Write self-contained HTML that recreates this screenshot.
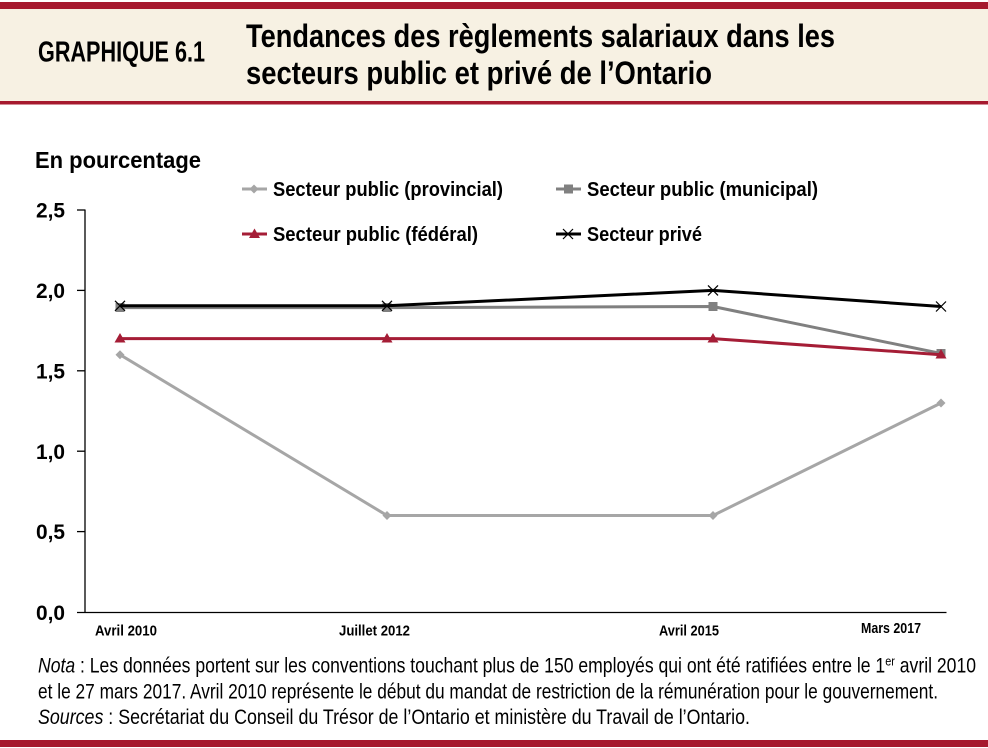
<!DOCTYPE html>
<html>
<head>
<meta charset="utf-8">
<style>
html,body{margin:0;padding:0;background:#fff;}
svg{display:block;}
text{font-family:"Liberation Sans",Arial,sans-serif;fill:#000;}
.b{font-weight:bold;}
</style>
</head>
<body>
<svg width="988" height="748" viewBox="0 0 988 748" xmlns="http://www.w3.org/2000/svg">
  <!-- header -->
  <rect x="0" y="0" width="988" height="748" fill="#ffffff"/>
  <rect x="0" y="2" width="988" height="7" fill="#A6192E"/>
  <rect x="0" y="9" width="988" height="92" fill="#F7F1E3"/>
  <rect x="0" y="101" width="988" height="3.5" fill="#A6192E"/>
  <text class="b" x="38" y="61.5" font-size="29" textLength="167" lengthAdjust="spacingAndGlyphs">GRAPHIQUE 6.1</text>
  <text class="b" x="246" y="47" font-size="32" textLength="589" lengthAdjust="spacingAndGlyphs">Tendances des règlements salariaux dans les</text>
  <text class="b" x="246" y="84" font-size="32" textLength="466" lengthAdjust="spacingAndGlyphs">secteurs public et privé de l’Ontario</text>

  <!-- y title -->
  <text class="b" x="35" y="168" font-size="23.5" textLength="166" lengthAdjust="spacingAndGlyphs">En pourcentage</text>

  <!-- legend -->
  <line x1="242" y1="189" x2="267" y2="189" stroke="#A6A6A6" stroke-width="3"/>
  <polygon points="254,184.5 258.5,189 254,193.5 249.5,189" fill="#A6A6A6"/>
  <text class="b" x="273" y="196" font-size="20" textLength="230" lengthAdjust="spacingAndGlyphs">Secteur public (provincial)</text>

  <line x1="556" y1="189" x2="581" y2="189" stroke="#808080" stroke-width="3"/>
  <rect x="564" y="184.5" width="9" height="9" fill="#808080"/>
  <text class="b" x="587" y="196" font-size="20" textLength="231" lengthAdjust="spacingAndGlyphs">Secteur public (municipal)</text>

  <line x1="242" y1="234" x2="267" y2="234" stroke="#A51D36" stroke-width="3"/>
  <polygon points="254.5,228.5 260,238 249,238" fill="#A51D36"/>
  <text class="b" x="273" y="241" font-size="20" textLength="205" lengthAdjust="spacingAndGlyphs">Secteur public (fédéral)</text>

  <line x1="556" y1="234" x2="581" y2="234" stroke="#000" stroke-width="3"/>
  <line x1="563" y1="229" x2="573" y2="239" stroke="#000" stroke-width="1.2"/>
  <line x1="563" y1="239" x2="573" y2="229" stroke="#000" stroke-width="1.2"/>
  <text class="b" x="587" y="241" font-size="20" textLength="115" lengthAdjust="spacingAndGlyphs">Secteur privé</text>

  <!-- axes -->
  <line x1="85" y1="209.5" x2="85" y2="612.5" stroke="#000" stroke-width="1.3"/>
  <line x1="77" y1="612.5" x2="946.5" y2="612.5" stroke="#000" stroke-width="1.3"/>
  <g stroke="#000" stroke-width="1.3">
    <line x1="77" y1="210" x2="85" y2="210"/>
    <line x1="77" y1="290.4" x2="85" y2="290.4"/>
    <line x1="77" y1="370.8" x2="85" y2="370.8"/>
    <line x1="77" y1="451.2" x2="85" y2="451.2"/>
    <line x1="77" y1="531.6" x2="85" y2="531.6"/>
  </g>
  <g font-size="21">
    <text class="b" x="36" y="217.5" textLength="29" lengthAdjust="spacingAndGlyphs">2,5</text>
    <text class="b" x="36" y="298" textLength="29" lengthAdjust="spacingAndGlyphs">2,0</text>
    <text class="b" x="36" y="378.3" textLength="29" lengthAdjust="spacingAndGlyphs">1,5</text>
    <text class="b" x="36" y="458.8" textLength="29" lengthAdjust="spacingAndGlyphs">1,0</text>
    <text class="b" x="36" y="539.2" textLength="29" lengthAdjust="spacingAndGlyphs">0,5</text>
    <text class="b" x="36" y="619.8" textLength="29" lengthAdjust="spacingAndGlyphs">0,0</text>
  </g>

  <!-- x labels -->
  <g font-size="15">
    <text class="b" x="95" y="635.5" textLength="62" lengthAdjust="spacingAndGlyphs">Avril 2010</text>
    <text class="b" x="339" y="635.5" textLength="71" lengthAdjust="spacingAndGlyphs">Juillet 2012</text>
    <text class="b" x="659" y="635.5" textLength="60" lengthAdjust="spacingAndGlyphs">Avril 2015</text>
    <text class="b" x="861" y="633" textLength="60" lengthAdjust="spacingAndGlyphs">Mars 2017</text>
  </g>

  <!-- series: provincial -->
  <polyline points="120,354.7 387,515.5 713,515.5 941,403" fill="none" stroke="#A6A6A6" stroke-width="3" stroke-linejoin="round"/>
  <g fill="#A6A6A6">
    <polygon points="120,350.2 124.5,354.7 120,359.2 115.5,354.7"/>
    <polygon points="387,511 391.5,515.5 387,520 382.5,515.5"/>
    <polygon points="713,511 717.5,515.5 713,520 708.5,515.5"/>
    <polygon points="941,398.5 945.5,403 941,407.5 936.5,403"/>
  </g>

  <!-- series: municipal -->
  <polyline points="120,307.6 387,307.6 713,306.5 941,353.5" fill="none" stroke="#808080" stroke-width="3" stroke-linejoin="round"/>
  <g fill="#808080">
    <rect x="115.5" y="303" width="9" height="9"/>
    <rect x="382.5" y="303" width="9" height="9"/>
    <rect x="708.5" y="302" width="9" height="9"/>
    <rect x="936.5" y="349" width="9" height="9"/>
  </g>

  <!-- series: federal -->
  <polyline points="120,338.6 387,338.6 713,338.6 941,354.7" fill="none" stroke="#A51D36" stroke-width="3" stroke-linejoin="round"/>
  <g fill="#A51D36">
    <polygon points="120,333 125.5,342.5 114.5,342.5"/>
    <polygon points="387,333 392.5,342.5 381.5,342.5"/>
    <polygon points="713,333 718.5,342.5 707.5,342.5"/>
    <polygon points="941,349 946.5,358.5 935.5,358.5"/>
  </g>

  <!-- series: private -->
  <polyline points="120,305.8 387,305.8 713,290.4 941,306.5" fill="none" stroke="#000" stroke-width="3" stroke-linejoin="round"/>
  <g stroke="#000" stroke-width="1.2">
    <line x1="115" y1="300.8" x2="125" y2="310.8"/><line x1="115" y1="310.8" x2="125" y2="300.8"/>
    <line x1="382" y1="300.8" x2="392" y2="310.8"/><line x1="382" y1="310.8" x2="392" y2="300.8"/>
    <line x1="708" y1="285.4" x2="718" y2="295.4"/><line x1="708" y1="295.4" x2="718" y2="285.4"/>
    <line x1="936" y1="301.5" x2="946" y2="311.5"/><line x1="936" y1="311.5" x2="946" y2="301.5"/>
  </g>

  <!-- footer -->
  <text x="38" y="672.5" font-size="21" textLength="938" lengthAdjust="spacingAndGlyphs"><tspan font-style="italic">Nota</tspan> : Les données portent sur les conventions touchant plus de 150 employés qui ont été ratifiées entre le 1<tspan font-size="13" dy="-7">er</tspan><tspan dy="7"> avril 2010</tspan></text>
  <text x="38" y="698.5" font-size="21" textLength="900" lengthAdjust="spacingAndGlyphs">et le 27 mars 2017. Avril 2010 représente le début du mandat de restriction de la rémunération pour le gouvernement.</text>
  <text x="38" y="724" font-size="21" textLength="712" lengthAdjust="spacingAndGlyphs"><tspan font-style="italic">Sources</tspan> : Secrétariat du Conseil du Trésor de l’Ontario et ministère du Travail de l’Ontario.</text>

  <rect x="0" y="740" width="988" height="7" fill="#A6192E"/>
</svg>
</body>
</html>
